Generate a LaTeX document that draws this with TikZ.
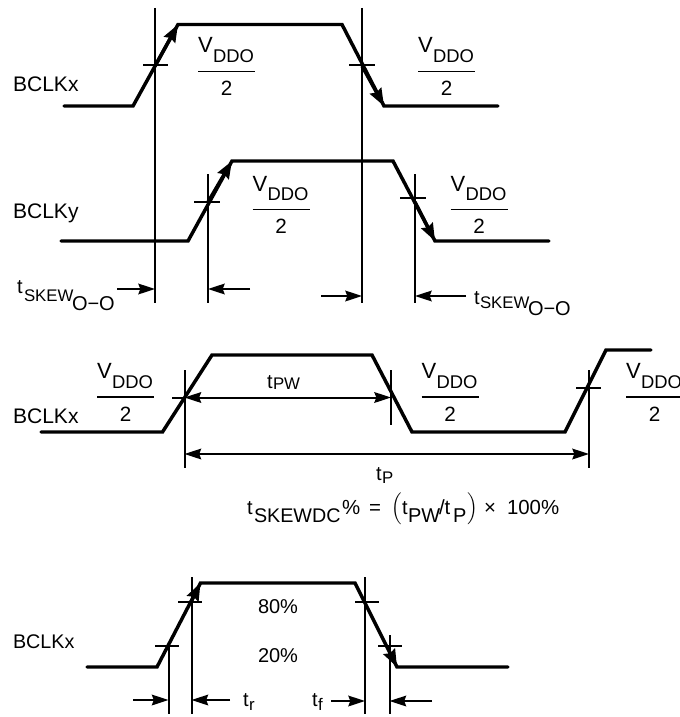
\documentclass[tikz,border=0pt]{standalone}
\usepackage{fontspec}
\setmainfont{Liberation Sans}
\usetikzlibrary{arrows.meta}
\usepackage{graphicx}
\newcommand{\fs}[1]{\fontsize{#1}{#1}\selectfont}
\tikzset{
 x=0.75pt,y=-0.75pt,
 wave/.style={line width=2.6pt,line join=miter,line cap=round},
 edgearrow/.style={line width=2.6pt,-{Stealth[length=13pt,width=9.5pt,inset=1.5pt]}},
 guide/.style={line width=1.5pt},
 dim/.style={line width=1.5pt,-{Stealth[length=12.5pt,width=8pt,inset=1.5pt]}},
 dimboth/.style={line width=1.5pt,{Stealth[length=12.5pt,width=8pt,inset=1.5pt]}-{Stealth[length=12.5pt,width=8pt,inset=1.5pt]}},
 lab/.style={anchor=base west,inner sep=0pt,outer sep=0pt,font=\fs{15.8}},
 subl/.style={anchor=base west,inner sep=0pt,outer sep=0pt,font=\fs{12.6}},
}
% fraction V_DDO / 2, centred on (#2,#3); #1 is a name prefix
\newcommand{\vddofrac}[3]{%
 \node[lab,font=\fs{16.5}] (#1v) at (#2-28.5,#3-18.5) {V};
 \node[lab,font=\fs{13.8}] (#1d) at (#2-13.5,#3-9) {DDO};
 \draw[line width=0.8pt] (#2-28.5,#3) -- (#2+28.5,#3);
 \node[anchor=base,inner sep=0pt,font=\fs{15.5}] (#1n) at (#2,#3+24) {2};
}
\begin{document}
\begin{tikzpicture}
\useasboundingbox (0,0) rectangle (679,717);
% row 1
\draw[wave] (64,106) -- (133,106) -- (178,24.5) -- (342,24.5) -- (384,106) -- (498,106);
\draw[edgearrow] (155,66) -- (178,24.5);
\draw[edgearrow] (362,66) -- (384,106);
% row 2
\draw[wave] (61,241) -- (188,241) -- (232,161) -- (393,161) -- (435,241) -- (549,241);
\draw[edgearrow] (208,202) -- (232,161);
\draw[edgearrow] (415,202) -- (435,241);
% guides
\draw[guide] (155,8) -- (155,303);
\draw[guide] (362,8) -- (362,303);
\draw[guide] (208,174) -- (208,303);
\draw[guide] (415,174) -- (415,303);
\draw[guide] (143,65) -- (168,65);
\draw[guide] (349,65) -- (375,65);
\draw[guide] (194,202) -- (220,202);
\draw[guide] (400,198) -- (426,198);
\draw[dim] (117,289) -- (155,289);
\draw[dim] (250,289) -- (208,289);
\draw[dim] (321,296) -- (362,296);
\draw[dim] (466,296) -- (415,296);
\vddofrac{a}{226.5}{71.5}
\vddofrac{b}{446.5}{71.5}
\vddofrac{c}{281}{209.5}
\vddofrac{d}{479}{209.5}
\node[lab] (bx1) at (13,91) {BCLKx};
\node[lab] (by) at (13,218) {BCLKy};
\node[lab,font=\fs{15}] (s1t) at (17,293) {t};
\node[subl] (s1s) at (24,301) {SKEW};
\node[lab,font=\fs{15}] (s1o) at (72,310) {O−O};
\node[lab,font=\fs{15}] (s2t) at (474,304) {t};
\node[subl] (s2s) at (480,308) {SKEW};
\node[lab,font=\fs{15}] (s2o) at (528,315) {O−O};
% row 3
\draw[wave] (41,432) -- (162.5,432) -- (212,355) -- (372,355) -- (412,432) -- (565,432) -- (606,350) -- (651,350);
\draw[guide] (184.5,370) -- (184.5,468);
\draw[guide] (391,370) -- (391,425);
\draw[guide] (589,370) -- (589,468);
\draw[guide] (172,397.5) -- (184.5,397.5);
\draw[guide] (576,387.5) -- (601,387.5);
\draw[dimboth] (184.5,397.5) -- (391,397.5);
\draw[dimboth] (184.5,454) -- (589,454);
\vddofrac{e}{125.5}{397}
\vddofrac{f}{450}{397}
\vddofrac{g}{654.5}{397}
\node[lab] (bx2) at (13,423) {BCLKx};
\node[lab,font=\fs{15}] (pwt) at (267,388) {t};
\node[subl] (pws) at (273,389.5) {PW};
\node[lab,font=\fs{15}] (pt) at (376,480) {t};
\node[subl] (ps) at (382,483) {P};
\node[lab,font=\fs{15}] (ft) at (247,514) {t};
\node[subl,font=\fs{14.8}] (fs) at (254,522.5) {SKEWDC};
\node[lab,font=\fs{15.3}] (fa) at (342,514) {\%};
\node[lab,font=\fs{15.3}] (feq) at (369,514) {=};
\node[anchor=center,inner sep=0pt] (fb) at (397,509) {\scalebox{1.33}{$\Bigl($}};
\node[lab,font=\fs{15}] (fc) at (402,514) {t};
\node[subl,font=\fs{15}] (fd) at (408,522.5) {PW};
\node[lab,font=\fs{15.3}] (fe) at (439,514) {/t};
\node[subl,font=\fs{15}] (ff) at (453,522.5) {P};
\node[anchor=center,inner sep=0pt] (fg) at (473,509) {\scalebox{1.33}{$\Bigr)$}};
\node[lab,font=\fs{15.3}] (fx) at (484,514) {×};
\node[lab,font=\fs{15.3}] (fh) at (507,514) {100\%};
% row 4
\draw[wave] (87,667) -- (157,667) -- (200.5,583) -- (355,583) -- (397,667) -- (508,667);
\draw[edgearrow] (191.5,601) -- (200.5,583);
\draw[edgearrow] (389.5,652) -- (397,667);
\draw[guide] (191.5,577) -- (191.5,714);
\draw[guide] (168.5,645) -- (168.5,714);
\draw[guide] (365,577) -- (365,714);
\draw[guide] (389.5,635) -- (389.5,714);
\draw[guide] (178,602) -- (202,602);
\draw[guide] (355,602) -- (379,602);
\draw[guide] (155,646) -- (179,646);
\draw[guide] (378,646) -- (402,646);
\draw[dim] (133,700) -- (168.5,700);
\draw[dim] (230,700) -- (191.5,700);
\draw[dim] (331,701) -- (365,701);
\draw[dim] (432,701) -- (389.5,701);
\node[lab,font=\fs{15}] (p80) at (258,613) {80\%};
\node[lab,font=\fs{15}] (p20) at (258,662) {20\%};
\node[lab,font=\fs{14.8}] (bx3) at (13,648) {BCLKx};
\node[lab,font=\fs{15}] (trt) at (243,706) {t};
\node[subl] (trs) at (249,710) {r};
\node[lab,font=\fs{15}] (tft) at (312,706) {t};
\node[subl] (tfs) at (318,710) {f};
\end{tikzpicture}
\end{document}
